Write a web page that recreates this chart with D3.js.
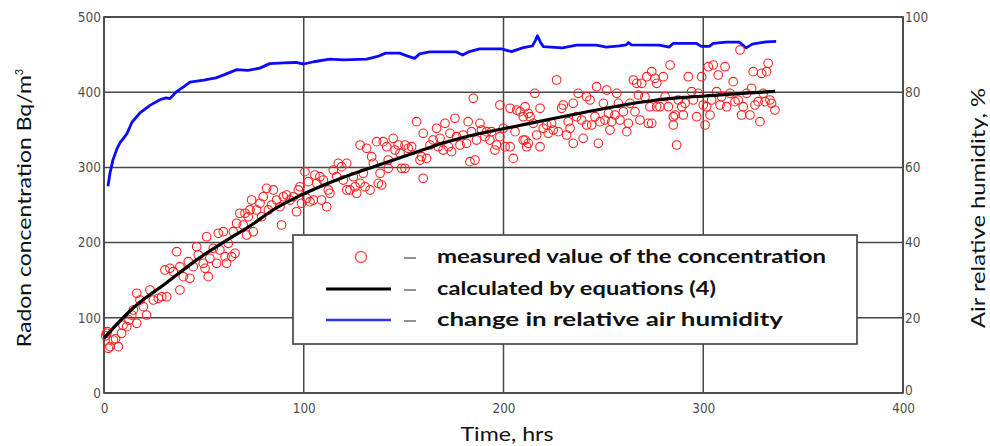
<!DOCTYPE html>
<html><head><meta charset="utf-8">
<script src="https://cdn.jsdelivr.net/npm/d3@7"></script>
<style>
html,body{margin:0;padding:0;background:#fff;}
svg{display:block;}
.tick text{font-family:"DejaVu Sans Condensed","DejaVu Sans",sans-serif;font-size:13.5px;fill:#505050;}
</style></head>
<body>
<svg id="c" width="990" height="446"></svg>
<script>
// ---- data ----
const xTicks = [0, 100, 200, 300, 400];
const yLeftTicks = [0, 100, 200, 300, 400, 500];
const yRightTicks = [0, 20, 40, 60, 80, 100];

const measTime = [0.8,1.3,1.7,2.2,3,4.7,5.8,7.2,8.8,9.5,11.4,12.5,13.9,14.7,16.4,16.4,18,19.7,21.3,23,24.7,27.2,28.9,30.5,31.4,33,34.7,36.4,38,38,39.7,42.2,43,44.7,46.4,47.2,49.7,50.6,51.4,52.2,53,54.7,56.4,57.2,58,59.7,60.6,61.4,62.2,63.9,64.7,65.6,66.4,68,69.7,70.6,71.4,72.2,73.1,73.9,74.7,76.4,78.1,78.9,79.7,81.4,82.3,83.9,84.8,86.4,88.1,88.9,89.8,91.4,93.1,94.8,96.4,97.3,98.1,98.9,100.6,101.4,102.3,103.1,104.8,105.6,106.5,108.1,108.9,109.8,111.5,112.3,113.1,114.8,116.5,117.3,119,119.8,121.5,121.5,123.1,124.8,125.7,126.5,128.2,128.2,129.8,130.7,131.5,133.2,134,134.8,136.5,137.3,138.2,139,139.8,141.5,142.3,142.3,144.8,145.7,147.3,148.2,149,150.7,150.7,152.3,154,156.5,158.2,159,159.8,159.8,161.5,163.2,164.8,166.5,167.3,168.2,169.8,170.7,172.4,173.2,174,175.7,176.5,178.2,179.8,181.5,182.3,183.2,184,184.9,185.7,186.5,188.2,189,190.7,191.5,193.2,194,195.7,196.5,198.2,198.2,199.9,200.8,203.3,203.3,204.9,205.8,206.6,208.3,209.9,209.9,210.8,210.8,211.6,212.4,212.4,213.3,214.9,215.7,216.6,218.3,218.3,219.9,221.6,222.4,224.1,224.9,226.6,227.4,229.1,229.9,231.6,232.4,233.3,234.9,234.9,236.6,237.4,239.1,239.9,241.6,241.6,243.3,244.1,245.8,246.6,247.5,248.3,250,250.8,251.7,252.5,253.3,254.2,255.8,256.7,257.5,258.3,260,261.7,262.5,263.3,265,265.8,266.7,267.5,268.3,269.2,270.8,271.7,272.5,273.3,274.2,274.2,275.8,276.7,276.7,278.3,280,280.9,282.5,283.4,285,285,285.9,286.7,287.5,289.2,290,290.9,292.5,294.2,295,296.7,297.5,299.2,300,300.9,301.7,302.5,303.4,304.2,305,306.7,307.5,308.4,309.2,310.9,311.7,313.4,315,315.9,317.5,318.4,319.2,320,321.7,323.4,324.2,325,325.9,327.5,328.4,329.2,330,330.9,331.7,332.5,333.4,334.2,335.9];
const measConc = [76,79.4,81.5,59.4,61.6,70.5,72,61.6,79.4,90,88.2,97,103.7,110.4,92.7,132.6,123.7,114.8,103.7,137,123.7,125.9,128,163.6,128,165.8,161.3,187.9,137,168,154.7,174.6,152.5,168,194.5,183.5,172.5,165.8,207.8,154.7,179.1,192.4,172.5,212.4,190.2,214.5,181.3,172.5,199,181.3,214.5,185.8,225.7,239,223.4,239,210.1,234.4,243.4,256.6,214.5,243.4,252.3,234.4,261,272.2,243.4,250,270,256.6,247.7,223.4,261,263.3,256.6,261,241,270,274.3,252.3,294.3,258.9,281,254.4,256.6,289.9,278.8,287.6,256.6,283.2,247.7,270,265.6,296.5,287.6,305.4,301,283.2,305.4,270,270,287.6,274.3,265.6,329.8,278.8,292.2,274.3,325.4,270,314.2,305.4,334.2,278.8,292.2,276.6,334.2,327.5,309.8,298.8,338.6,323.1,329.8,318.7,298.8,298.8,329.8,325.4,327.5,360.8,309.8,314.2,285.5,345.3,312,329.8,336.4,352,327.5,338.6,323.1,358.6,327.5,345.3,320.9,365.3,340.9,329.8,343.1,332,360.8,307.6,347.5,391.9,309.8,336.4,358.6,349.7,340.9,347.5,336.4,347.5,323.1,329.8,383,340.9,352,327.5,378.6,327.5,312,347.5,376.3,374.1,336.4,367.4,380.7,336.4,327.5,371.9,332,367.4,358.6,398.5,343.1,378.6,327.5,352,356.4,345.3,358.6,349.7,416.2,347.5,378.6,383,343.1,360.8,352,332,385.2,367.4,398.5,363,338.6,394,356.4,389.6,356.4,367.4,407.3,332,360.8,385.2,363,402.9,371.9,349.7,360.8,369.7,398.5,385.2,363,374.1,347.5,358.6,385.2,416.2,374.1,411.8,396.3,363,411.8,394,420.6,358.6,380.7,427.3,358.6,418.4,411.8,380.7,380.7,420.6,394,380.7,436.2,367.4,356.4,369.7,329.8,389.6,380.7,369.7,385.2,420.6,400.7,389.6,367.4,398.5,420.6,383,356.4,380.7,433.9,369.7,389.6,436.2,400.7,422.9,383,394,433.9,380.7,398.5,414,387.4,389.6,456.1,369.7,380.7,398.5,369.7,405.2,427.3,383,387.4,360.8,425.1,398.5,387.4,427.3,438.4,389.6,385.2,376.3];

const calcTime = [0,15,31,48,65,73,85,101,118,135,155,172,188,205,225,242,258,275,290,307,323,336];
const calcConc = [73,114,146,180,209,222,244,266,285,301,319,334,345,354,365,374,382,389,393,396,399,401];

const humTime = [2,3,4.5,6.5,8,11.5,14,18,23,28,31,33,36,40,43,50,56,60,66.5,72,78,83,90,96,100,105,113,120,131.5,137,141,148,152,155.5,158,163,176.5,179.5,183,188,199,204,209.5,214.5,216,217,218.5,220,229.5,236.5,246.5,251.5,258,261.5,262.5,264,278,283,285,296.5,299,303,305,311.5,318,321.5,324.5,331.5,336.5];
const humVal  = [55,58.5,62,65,66.5,69,72,74.5,76.5,78,78.5,78.3,80,81.5,82.7,83.2,83.8,84.6,86,85.8,86.4,87.6,87.8,87.9,87.5,88.1,88.8,88.6,88.8,89.5,90.4,90.4,89.6,89,90.2,90.7,90.7,89.9,90.8,91.5,91.5,90.8,91.8,92.3,93.8,95,93.3,92.1,91.8,92.5,92.5,92,92.3,92.6,93.2,92.6,92.5,92,93,93,92.2,92.2,93,93.3,93.3,91.8,92.8,93.4,93.5];

const legendLabels = ["measured value of the concentration","calculated by equations (4)","change in relative air humidity"];

// ---- drawing ----
const svg = d3.select("#c");
const L = 104, R = 903, T = 17, B = 393;
const x = d3.scaleLinear().domain([0,400]).range([L,R]);
const yL = d3.scaleLinear().domain([0,500]).range([B,T]);
const yR = d3.scaleLinear().domain([0,100]).range([B,T]);
const gridColor = "#474747";

// grid
const grid = svg.append("g");
grid.selectAll("line.v").data(xTicks).join("line")
  .attr("x1", d=>x(d)).attr("x2", d=>x(d)).attr("y1", T).attr("y2", B)
  .attr("stroke", gridColor).attr("stroke-width", 1.5);
grid.selectAll("line.h").data(yLeftTicks).join("line")
  .attr("x1", L).attr("x2", R).attr("y1", d=>yL(d)).attr("y2", d=>yL(d))
  .attr("stroke", gridColor).attr("stroke-width", 1.5);
svg.append("rect").attr("x",L).attr("y",T).attr("width",R-L).attr("height",B-T)
  .attr("fill","none").attr("stroke",gridColor).attr("stroke-width",1.7);

// tick labels
const ax = svg.append("g").attr("transform",`translate(0,${B})`)
  .call(d3.axisBottom(x).tickValues(xTicks).tickSize(0).tickPadding(10));
const ayl = svg.append("g").attr("transform",`translate(${L},0)`)
  .call(d3.axisLeft(yL).tickValues(yLeftTicks).tickSize(0).tickPadding(3));
const ayr = svg.append("g").attr("transform",`translate(${R},0)`)
  .call(d3.axisRight(yR).tickValues(yRightTicks).tickSize(0).tickPadding(2));
[ax,ayl,ayr].forEach(g=>g.select(".domain").remove());
ayr.selectAll(".tick").filter(d=>d===0).select("text").attr("dy","0.1em");

// humidity line
svg.append("path").datum(humTime.map((t,i)=>[t,humVal[i]]))
  .attr("fill","none").attr("stroke","#0a0aff").attr("stroke-width",2.8)
  .attr("stroke-linejoin","round")
  .attr("d", d3.line().x(d=>x(d[0])).y(d=>yR(d[1])));

// measured points
svg.append("g").selectAll("circle").data(measTime.map((t,i)=>[t,measConc[i]]))
  .join("circle").attr("cx",d=>x(d[0])).attr("cy",d=>yL(d[1])).attr("r",4.3)
  .attr("fill","none").attr("stroke","#ff2020").attr("stroke-width",1.1);

// calculated curve
svg.append("path").datum(calcTime.map((t,i)=>[t,calcConc[i]]))
  .attr("fill","none").attr("stroke","#000").attr("stroke-width",3.2)
  .attr("d", d3.line().curve(d3.curveMonotoneX).x(d=>x(d[0])).y(d=>yL(d[1])));

// legend
const lg = svg.append("g");
lg.append("rect").attr("x",293).attr("y",235).attr("width",564).attr("height",109)
  .attr("fill","#fff").attr("stroke","#474747").attr("stroke-width",1.7);
const rowY = [257, 289, 320];
lg.append("circle").attr("cx",361).attr("cy",rowY[0]).attr("r",5.5)
  .attr("fill","none").attr("stroke","#f55").attr("stroke-width",1.4);
lg.append("line").attr("x1",326).attr("x2",391).attr("y1",rowY[1]).attr("y2",rowY[1])
  .attr("stroke","#000").attr("stroke-width",3.2);
lg.append("line").attr("x1",326).attr("x2",391).attr("y1",rowY[2]).attr("y2",rowY[2])
  .attr("stroke","#3333ee").attr("stroke-width",2.4);
rowY.forEach((yy,i)=>{
  lg.append("line").attr("x1",404).attr("x2",416).attr("y1",yy+1).attr("y2",yy+1)
    .attr("stroke","#777").attr("stroke-width",1.6);
});
const widths = [389, 279, 346];
lg.selectAll("text.leg").data(legendLabels).join("text")
  .attr("x",437).attr("y",(d,i)=>rowY[i]+6)
  .attr("font-family","Lato,'Open Sans',sans-serif").attr("font-weight","bold")
  .attr("font-size",19).attr("fill","#111")
  .attr("textLength",(d,i)=>widths[i]).attr("lengthAdjust","spacingAndGlyphs")
  .text(d=>d);

// axis titles
const tfont = "Lato,'Open Sans',sans-serif";
const lt = svg.append("text").attr("transform","translate(31,208) rotate(-90)")
  .attr("text-anchor","middle").attr("font-family",tfont).attr("font-size",20).attr("fill","#111");
lt.append("tspan").attr("textLength",272).attr("lengthAdjust","spacingAndGlyphs")
  .text("Radon concentration Bq/m");
lt.append("tspan").attr("font-size",11).attr("dy",-8).text("3");
svg.append("text").attr("transform","translate(985,208) rotate(-90)")
  .attr("text-anchor","middle").attr("font-family",tfont).attr("font-size",19).attr("fill","#111")
  .attr("textLength",240).attr("lengthAdjust","spacingAndGlyphs")
  .text("Air relative humidity, %");
svg.append("text").attr("x",507).attr("y",441).attr("text-anchor","middle")
  .attr("font-family",tfont).attr("font-size",20).attr("fill","#111")
  .attr("textLength",93).attr("lengthAdjust","spacingAndGlyphs")
  .text("Time, hrs");
</script>
</body></html>
